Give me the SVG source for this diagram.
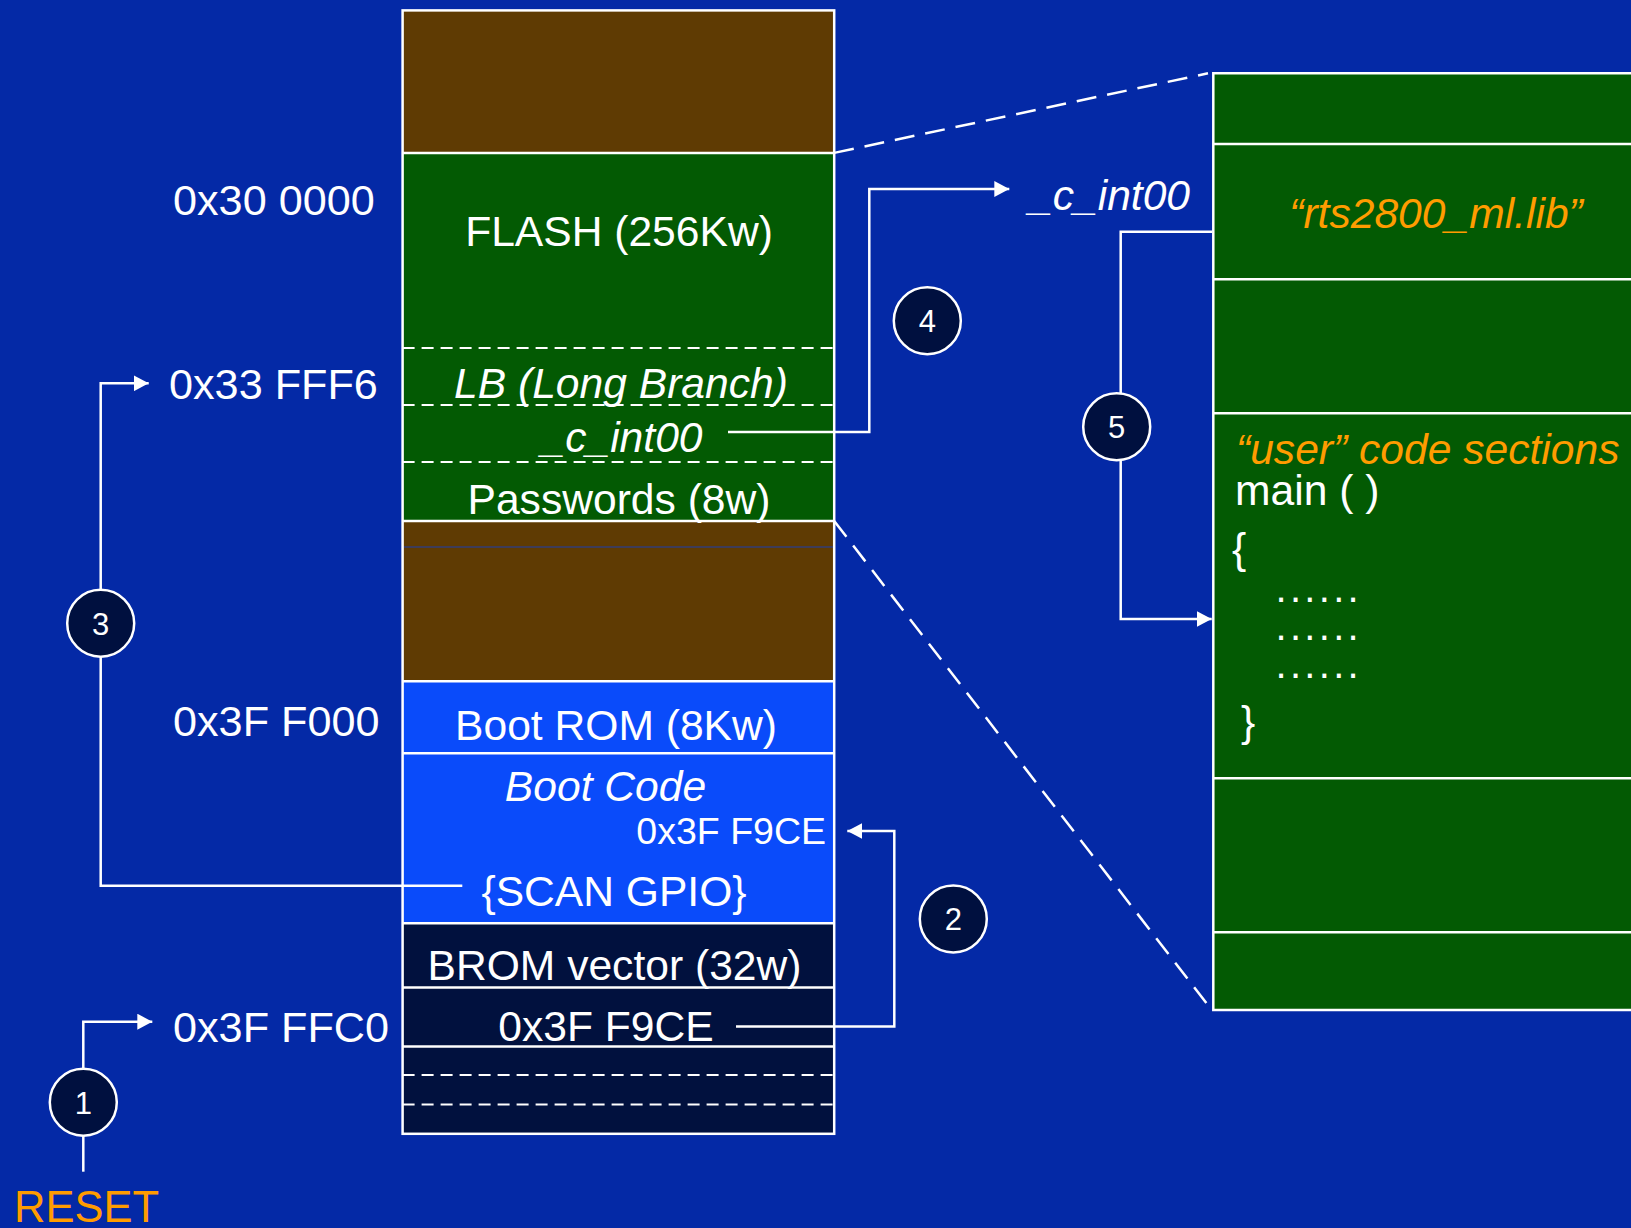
<svg xmlns="http://www.w3.org/2000/svg" width="1631" height="1228" viewBox="0 0 1631 1228">
<defs>
<style>
text{font-family:"Liberation Sans",Arial,sans-serif;fill:#fff;font-size:42.6px}
.it{font-style:italic}
.or{fill:#ff9c00}
.mid{text-anchor:middle}
.addr{font-size:43.2px}
.dots{font-size:40px;letter-spacing:3.3px}
.sep{stroke:#fff;stroke-width:2.5;fill:none}
.dash{stroke:#fff;stroke-width:2;stroke-dasharray:12 7;fill:none}
.zoom{stroke:#fff;stroke-width:2.5;stroke-dasharray:20 11;fill:none}
.conn{stroke:#fff;stroke-width:2.5;fill:none}
.num{fill:#00103f;stroke:#fff;stroke-width:2.5}
.ntext{font-size:31px;text-anchor:middle}
</style>
<marker id="arr" markerUnits="userSpaceOnUse" markerWidth="16" markerHeight="16" refX="15" refY="8" orient="auto">
<path d="M0,0 L15,8 L0,16 z" fill="#fff"/>
</marker>
</defs>
<rect width="1631" height="1228" fill="#0429a6"/>

<g id="memory-map">
<rect x="402.6" y="10.4" width="431.6" height="142.5" fill="#5f3b03"/>
<rect x="402.6" y="152.9" width="431.6" height="368" fill="#035a03"/>
<rect x="402.6" y="520.9" width="431.6" height="160.4" fill="#5f3b03"/>
<rect x="402.6" y="681.3" width="431.6" height="242" fill="#0a4bfa"/>
<rect x="402.6" y="923.3" width="431.6" height="210.5" fill="#01113e"/>
<line x1="402.6" y1="547" x2="834.2" y2="547" stroke="#1d3fb0" stroke-width="1.2"/>
<line class="dash" x1="402.6" y1="348" x2="834.2" y2="348"/>
<line class="dash" x1="402.6" y1="405" x2="834.2" y2="405"/>
<line class="dash" x1="402.6" y1="462" x2="834.2" y2="462"/>
<line class="dash" x1="402.6" y1="1075" x2="834.2" y2="1075"/>
<line class="dash" x1="402.6" y1="1104.5" x2="834.2" y2="1104.5"/>
<line class="sep" x1="402.6" y1="152.9" x2="834.2" y2="152.9"/>
<line class="sep" x1="402.6" y1="520.9" x2="834.2" y2="520.9"/>
<line class="sep" x1="402.6" y1="681.3" x2="834.2" y2="681.3"/>
<line class="sep" x1="402.6" y1="753.3" x2="834.2" y2="753.3"/>
<line class="sep" x1="402.6" y1="923.3" x2="834.2" y2="923.3"/>
<line class="sep" x1="402.6" y1="987.5" x2="834.2" y2="987.5"/>
<line class="sep" x1="402.6" y1="1046.5" x2="834.2" y2="1046.5"/>
<rect class="sep" x="402.6" y="10.4" width="431.6" height="1123.4"/>
<text class="mid" x="619" y="246">FLASH (256Kw)</text>
<text class="mid it" x="621" y="398">LB (Long Branch)</text>
<text class="mid it" x="622" y="452">_c_int00</text>
<text class="mid" x="619" y="513.5">Passwords (8w)</text>
<text class="mid" x="616" y="740">Boot ROM (8Kw)</text>
<text class="mid it" x="605.5" y="800.5">Boot Code</text>
<text x="826" y="843.5" style="font-size:37.5px;text-anchor:end">0x3F F9CE</text>
<text class="mid" x="614" y="905.5">{SCAN GPIO}</text>
<text class="mid" x="614.5" y="979.5">BROM vector (32w)</text>
<text class="mid" x="606" y="1041">0x3F F9CE</text>
</g>

<g id="addresses">
<text class="addr" x="173" y="215">0x30 0000</text>
<text class="addr" x="169" y="399.3">0x33 FFF6</text>
<text class="addr" x="173" y="735.5">0x3F F000</text>
<text class="addr" x="173" y="1042.3">0x3F FFC0</text>
<text class="or" x="14" y="1222" style="font-size:43.5px">RESET</text>
<text class="it" x="1029" y="210">_c_int00</text>
</g>

<g id="code-map">
<rect x="1213.3" y="73.3" width="430" height="936.7" fill="#035a03"/>
<line class="sep" x1="1213.3" y1="144" x2="1631" y2="144"/>
<line class="sep" x1="1213.3" y1="279.3" x2="1631" y2="279.3"/>
<line class="sep" x1="1213.3" y1="413.3" x2="1631" y2="413.3"/>
<line class="sep" x1="1213.3" y1="778.3" x2="1631" y2="778.3"/>
<line class="sep" x1="1213.3" y1="932.3" x2="1631" y2="932.3"/>
<path class="sep" d="M1640,73.3 H1213.3 V1010 H1640"/>
<text class="mid it or" x="1436" y="228.3">“rts2800_ml.lib”</text>
<text class="it or" x="1236" y="464">“user” code sections</text>
<text x="1235" y="505">main ( )</text>
<text x="1232" y="563">{</text>
<text class="dots" x="1275.5" y="601.5">......</text>
<text class="dots" x="1275.5" y="639.5">......</text>
<text class="dots" x="1275.5" y="678">......</text>
<text x="1241" y="736">}</text>
</g>

<g id="connectors">
<line class="zoom" x1="834.2" y1="152.9" x2="1208" y2="73.3"/>
<line class="zoom" x1="834.2" y1="521" x2="1211.7" y2="1010"/>
<path class="conn" d="M83.3,1068.8 V1021.7 H152.3" marker-end="url(#arr)"/>
<line class="conn" x1="83.3" y1="1135.8" x2="83.3" y2="1171.7"/>
<path class="conn" d="M736,1026.5 H894.3 V831 H847.3" marker-end="url(#arr)"/>
<path class="conn" d="M462.3,885.8 H100.7 V656.8"/>
<path class="conn" d="M100.7,589.8 V383.3 H148.7" marker-end="url(#arr)"/>
<path class="conn" d="M728,432 H869.3 V189 H1009.3" marker-end="url(#arr)"/>
<path class="conn" d="M1212,231.7 H1120.7 V393.2"/>
<path class="conn" d="M1120.7,460.2 V619 H1211.7" marker-end="url(#arr)"/>
</g>

<g id="step-1"><circle class="num" cx="83.3" cy="1102.3" r="33.5"/><text class="ntext" x="83.3" y="1113.5">1</text></g>
<g id="step-2"><circle class="num" cx="953.3" cy="919" r="33.5"/><text class="ntext" x="953.3" y="930.2">2</text></g>
<g id="step-3"><circle class="num" cx="100.7" cy="623.3" r="33.5"/><text class="ntext" x="100.7" y="634.5">3</text></g>
<g id="step-4"><circle class="num" cx="927.3" cy="320.7" r="33.5"/><text class="ntext" x="927.3" y="331.9">4</text></g>
<g id="step-5"><circle class="num" cx="1116.7" cy="426.7" r="33.5"/><text class="ntext" x="1116.7" y="437.9">5</text></g>
</svg>
